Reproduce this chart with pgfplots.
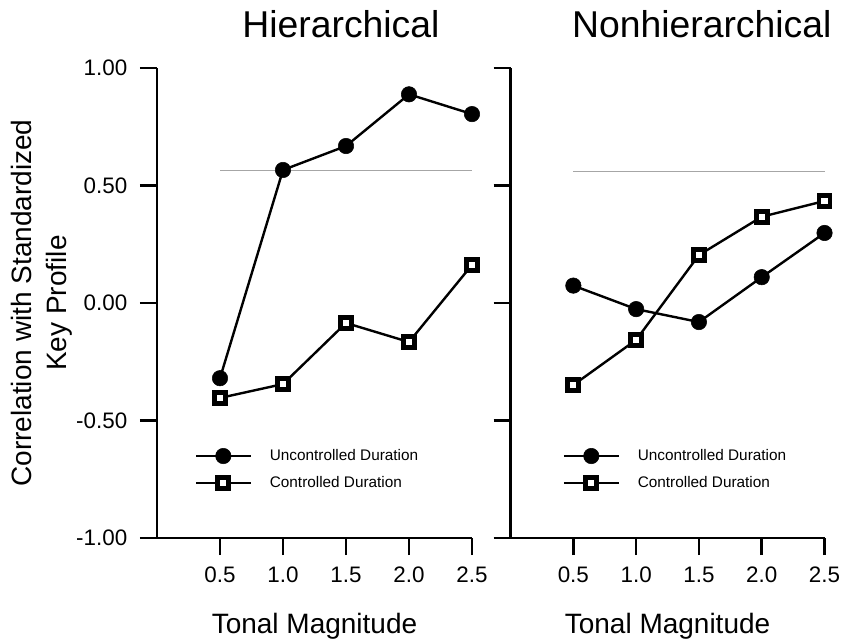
\documentclass[border=0pt]{standalone}
\usepackage{pgfplots}
\pgfplotsset{compat=1.18}
\usepackage{fontspec}
\setmainfont{Liberation Sans}
\pgfplotsset{
  myaxis/.style={
    scale only axis, width=236.25pt, height=352.5pt,
    xmin=0, xmax=2.5, ymin=-1, ymax=1,
    axis x line*=bottom, axis y line*=left,
    axis line style={line width=2.1pt, -},
    xtick={0.5,1,1.5,2,2.5}, xticklabels={0.5,1.0,1.5,2.0,2.5},
    ytick={-1,-0.5,0,0.5,1},
    tick align=outside, major tick length=12.75pt,
    tick style={line width=1.9pt, black},
    ticklabel style={font=\fontsize{16.8}{19}\selectfont},
    xticklabel style={anchor=base, yshift=-20.25pt},
    yticklabel style={xshift=-6pt},
    clip=false,
    title style={font=\fontsize{28}{32}\selectfont, anchor=base, yshift=16.5pt},
    xlabel style={font=\fontsize{21}{25}\selectfont, anchor=base, at={(axis description cs:0.5,0)}, yshift=-71.25pt},
    legend cell align=left,
    legend style={draw=none, fill=none, inner sep=0pt, outer sep=0pt, anchor=west,
      row sep=9.5pt, column sep=13.5pt,
      nodes={inner sep=0pt, font=\fontsize{11.5}{13}\selectfont}},
    legend image code/.code={\draw[mark repeat=2,mark phase=2,#1] plot coordinates {(0pt,0pt) (20.5pt,0pt) (41pt,0pt)};},
  },
  unc/.style={black, line width=1.8pt, mark=*, mark size=5.8pt, mark options={solid, line width=0.4pt}},
  con/.style={black, line width=1.8pt, mark=square*, mark size=4.1pt, mark options={solid, fill=white, line width=3.6pt}},
  refl/.style={gray!70, line width=0.6pt, forget plot},
}
\begin{document}
\begin{tikzpicture}
\useasboundingbox (0,0) rectangle (631.5pt,480pt);
\begin{axis}[myaxis, at={(117.75pt,76.5pt)}, anchor=south west,
  yticklabels={-1.00,-0.50,0.00,0.50,1.00},
  title={Hierarchical}, title style={at={(axis description cs:0.584,1)}},
  xlabel={Tonal Magnitude},
  ylabel={Correlation with Standardized\\Key Profile},
  ylabel style={align=center, font=\fontsize{21}{26.25}\selectfont, at={(axis description cs:-0.365,0.5)}, anchor=center},
  legend style={at={(axis cs:0.30,-0.706)}},
]
\addplot[refl] coordinates {(0.5,0.566) (2.5,0.566)};
\addplot[unc] coordinates {(0.5,-0.32) (1.0,0.566) (1.5,0.668) (2.0,0.888) (2.5,0.804)};
\addlegendentry{Uncontrolled Duration}
\addplot[con] coordinates {(0.5,-0.404) (1.0,-0.345) (1.5,-0.085) (2.0,-0.166) (2.5,0.162)};
\addlegendentry{Controlled Duration}
\end{axis}
\begin{axis}[myaxis, at={(382.9pt,76.5pt)}, anchor=south west, width=235.5pt,
  yticklabels={},
  title={Nonhierarchical}, title style={at={(axis description cs:0.609,1)}},
  xlabel={Tonal Magnitude},
  legend style={at={(axis cs:0.416,-0.706)}},
]
\addplot[refl] coordinates {(0.5,0.559) (2.5,0.559)};
\addplot[unc] coordinates {(0.5,0.074) (1.0,-0.026) (1.5,-0.081) (2.0,0.11) (2.5,0.298)};
\addlegendentry{Uncontrolled Duration}
\addplot[con] coordinates {(0.5,-0.349) (1.0,-0.157) (1.5,0.204) (2.0,0.367) (2.5,0.434)};
\addlegendentry{Controlled Duration}
\end{axis}
\end{tikzpicture}
\end{document}
